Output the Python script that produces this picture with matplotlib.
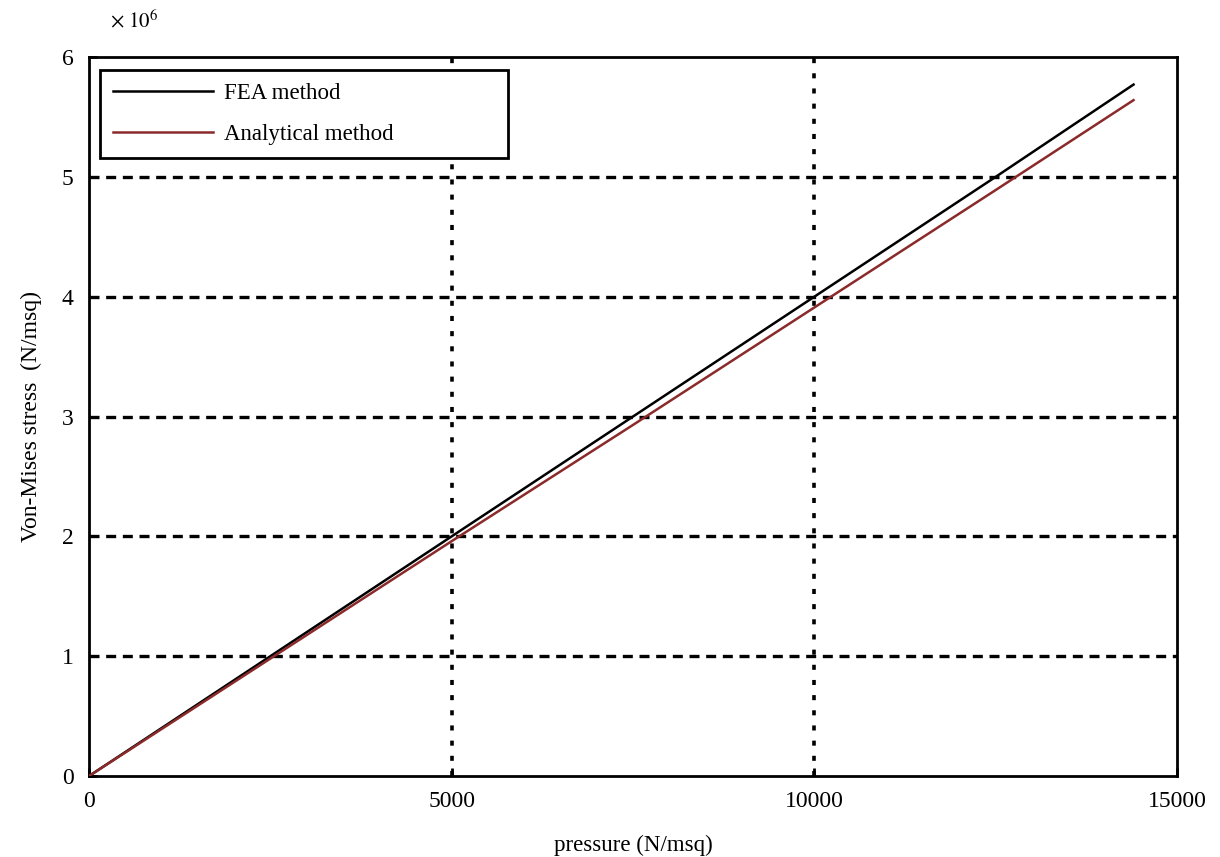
import matplotlib
matplotlib.use("Agg")
import matplotlib.pyplot as plt

plt.rcParams["font.family"] = ["Liberation Serif", "DejaVu Serif"]
plt.rcParams["mathtext.fontset"] = "stix"

# pressure (N/msq) and von-Mises stress (N/msq)
pressure = [0, 2500, 5000, 7500, 10000, 12500, 14400]
fea_stress = [0, 1.0e6, 2.0e6, 3.0e6, 4.0e6, 5.0e6, 5.77e6]
analytical_stress = [0, 0.98e6, 1.96e6, 2.93e6, 3.91e6, 4.89e6, 5.64e6]

x_ticks = [0, 5000, 10000, 15000]
y_ticks = [0, 1e6, 2e6, 3e6, 4e6, 5e6, 6e6]

fig = plt.figure(figsize=(12.2, 8.57), dpi=100)
ax = fig.add_axes([0.073, 0.0945, 0.8918, 0.839])

ax.plot(pressure, fea_stress, color="black", lw=1.8, label="FEA method", zorder=3)
ax.plot(pressure, analytical_stress, color="#8b2a2a", lw=1.8, label="Analytical method", zorder=3)

ax.set_xlim(0, 15000)
ax.set_ylim(0, 6e6)
ax.set_xticks(x_ticks)
ax.set_yticks(y_ticks)
ax.set_xticklabels([str(t) for t in x_ticks])
ax.set_yticklabels([str(int(t / 1e6)) for t in y_ticks])
ax.tick_params(direction="in", length=6, width=2, labelsize=17, pad=11)

# heavy dashed grid, vertical lines more dotted
for y in y_ticks[1:-1]:
    ax.axhline(y, color="black", lw=2.4, dashes=(3, 2), zorder=1)
for x in x_ticks[1:-1]:
    ax.axvline(x, color="black", lw=2.6, dashes=(1.4, 2.8), zorder=1)

for s in ax.spines.values():
    s.set_linewidth(2)

ax.set_xlabel("pressure (N/msq)", fontsize=16.5, labelpad=16)
ax.set_ylabel("Von-Mises stress  (N/msq)", fontsize=17, labelpad=14)
fig.text(110 / 1220, 1 - 27 / 857, r"$\times\ 10^{6}$", fontsize=15,
         ha="left", va="baseline")

leg = ax.legend(loc="upper left", bbox_to_anchor=(0.0101, 0.0, 0.375, 0.982),
                mode="expand", fontsize=16.5, frameon=True, fancybox=False,
                edgecolor="black", framealpha=1, handlelength=4.4,
                handletextpad=0.45, borderpad=0.55, labelspacing=0.9,
                borderaxespad=0)
leg.get_frame().set_linewidth(2)

fig.savefig("out.png", dpi=100)
